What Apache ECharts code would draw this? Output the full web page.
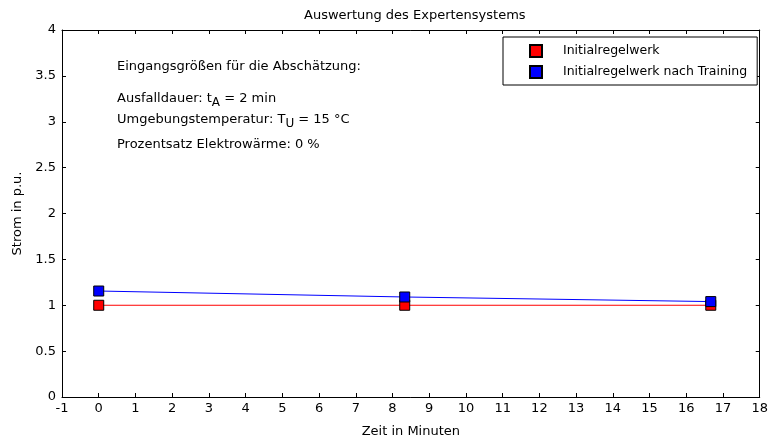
<!DOCTYPE html>
<html>
<head>
<meta charset="utf-8">
<script src="https://cdn.jsdelivr.net/npm/echarts@6/dist/echarts.min.js"></script>
<style>
html,body{margin:0;padding:0;background:#fff;}
#c{width:771px;height:443px;}
</style>
</head>
<body>
<div id="c"></div>
<script>
// Data
const timeMinutes = [0, 8.333, 16.667];
const initialRules = [1.0, 1.0, 1.0];
const trainedRules = [1.155, 1.09, 1.04];
const seriesNames = ['Initialregelwerk', 'Initialregelwerk nach Training'];
const xTickMin = -1, xTickMax = 18, xTickStep = 1;
const yTickMin = 0, yTickMax = 4, yTickStep = 0.5;
const titleText = 'Auswertung des Expertensystems';
const xName = 'Zeit in Minuten';
const yName = 'Strom in p.u.';

const FONT = 'DejaVu Sans, Liberation Sans, sans-serif';
const FS = 13;
const chart = echarts.init(document.getElementById('c'), null, {renderer: 'canvas'});

const axisCommon = {
  axisLine: {show: true, onZero: false, lineStyle: {color: '#000', width: 1}},
  axisTick: {show: true, inside: true, length: 4, lineStyle: {color: '#000'}},
  splitLine: {show: false}
};

const txtBase = {fontSize: FS, fontFamily: FONT, color: '#000'};
const richSub = {
  n: {fontSize: FS, fontFamily: FONT, color: '#000', lineHeight: 15, verticalAlign: 'top'},
  s: {fontSize: 12, fontFamily: FONT, color: '#000', lineHeight: 15, verticalAlign: 'top', padding: [5, 0, 0, 0]}
};

chart.setOption({
  animation: false,
  backgroundColor: '#fff',
  title: {
    text: titleText, left: 299, top: 4,
    textStyle: {fontSize: FS, fontWeight: 'normal', fontFamily: FONT, color: '#000'}
  },
  grid: {left: 62, right: 8, top: 30, bottom: 43, containLabel: false},
  legend: {
    orient: 'vertical', left: 503, top: 37,
    padding: [7, 10, 6, 26],
    borderColor: '#000', borderWidth: 1, backgroundColor: '#fff',
    itemWidth: 12, itemHeight: 12, itemGap: 7,
    icon: 'rect',
    textStyle: {fontSize: 12.5, fontFamily: FONT, color: '#000', padding: [0, 0, 0, 16]},
    data: seriesNames
  },
  xAxis: [
    Object.assign({
      type: 'value', min: xTickMin, max: xTickMax, interval: xTickStep, position: 'bottom',
      name: xName, nameLocation: 'middle', nameGap: 28,
      nameTextStyle: {fontSize: FS, fontFamily: FONT, color: '#000'},
      axisLabel: {fontSize: FS, fontFamily: FONT, color: '#000', margin: 5}
    }, axisCommon),
    Object.assign({
      type: 'value', min: xTickMin, max: xTickMax, interval: xTickStep, position: 'top',
      axisLabel: {show: false}
    }, axisCommon)
  ],
  yAxis: [
    Object.assign({
      type: 'value', min: yTickMin, max: yTickMax, interval: yTickStep, position: 'left',
      name: yName, nameLocation: 'middle', nameGap: 37, nameRotate: 90,
      nameTextStyle: {fontSize: FS, fontFamily: FONT, color: '#000'},
      axisLabel: {fontSize: FS, fontFamily: FONT, color: '#000', margin: 6}
    }, axisCommon),
    Object.assign({
      type: 'value', min: yTickMin, max: yTickMax, interval: yTickStep, position: 'right',
      axisLabel: {show: false}
    }, axisCommon)
  ],
  graphic: [{
    type: 'group', left: 117, top: 60,
    children: [
      {type: 'text', x: 0, y: 0, style: Object.assign({text: 'Eingangsgrößen für die Abschätzung:'}, txtBase)},
      {type: 'text', x: 0, y: 32, style: Object.assign({
        text: '{n|Ausfalldauer: t}{s|A}{n| = 2 min}', rich: richSub
      }, txtBase)},
      {type: 'text', x: 0, y: 53, style: Object.assign({
        text: '{n|Umgebungstemperatur: T}{s|U}{n| = 15 °C}', rich: richSub
      }, txtBase)},
      {type: 'text', x: 0, y: 78, style: Object.assign({text: 'Prozentsatz Elektrowärme: 0 %'}, txtBase)}
    ]
  }],
  series: [
    {
      name: seriesNames[0], type: 'line', color: '#ff0000',
      data: timeMinutes.map((t, i) => [t, initialRules[i]]),
      symbol: 'rect', symbolSize: 10, showSymbol: true,
      lineStyle: {color: '#ff0000', width: 1, opacity: 1},
      itemStyle: {color: '#ff0000', borderColor: '#000', borderWidth: 1}
    },
    {
      name: seriesNames[1], type: 'line', color: '#0000ff',
      data: timeMinutes.map((t, i) => [t, trainedRules[i]]),
      symbol: 'rect', symbolSize: 10, showSymbol: true,
      lineStyle: {color: '#0000ff', width: 1, opacity: 1},
      itemStyle: {color: '#0000ff', borderColor: '#000', borderWidth: 1}
    }
  ]
});
</script>
</body>
</html>
